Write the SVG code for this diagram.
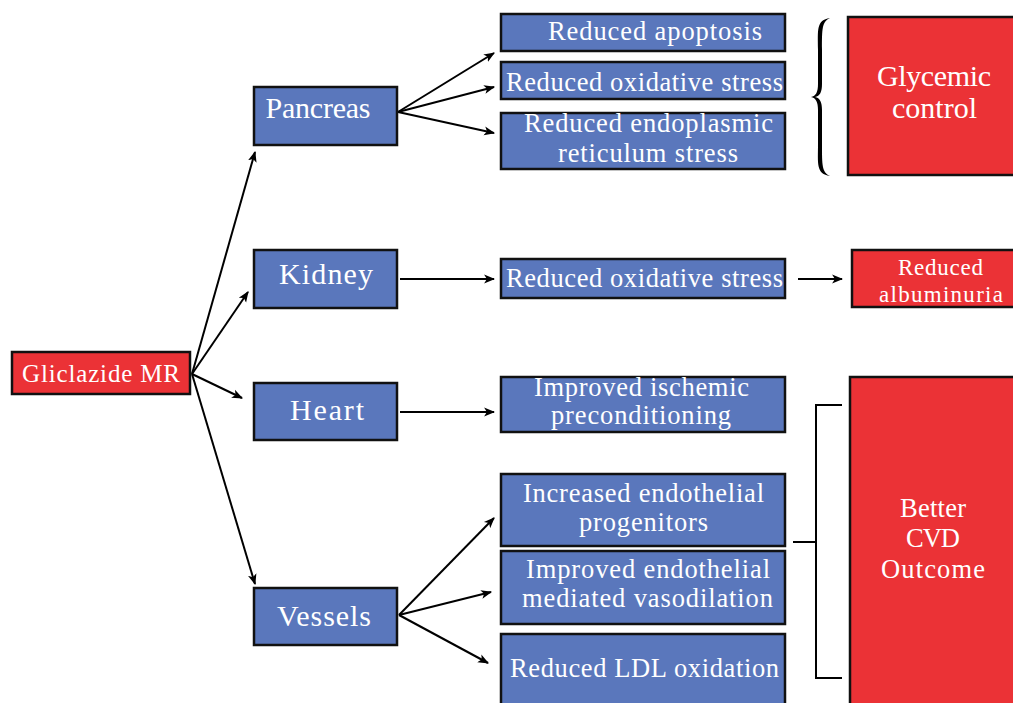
<svg xmlns="http://www.w3.org/2000/svg" width="1013" height="703" viewBox="0 0 1013 703">
<style>
.b{fill:#5a77bc;stroke:#111;stroke-width:2.5}
.r{fill:#eb3236;stroke:#111;stroke-width:2.5}
text{font-family:"Liberation Serif","DejaVu Serif",serif;fill:#fff;text-anchor:middle}
.s24{font-size:26.5px}
.s27{font-size:30px}
.c{fill:none;stroke:#000;stroke-width:2}
</style>
<defs>
<marker id="ah" viewBox="0 0 10 10" refX="9" refY="5" markerWidth="11" markerHeight="11" orient="auto" markerUnits="userSpaceOnUse">
<path d="M0,1 L10,5 L0,9 L2.5,5 Z" fill="#000"/>
</marker>
</defs>
<rect width="1013" height="703" fill="#fff"/>
<g id="connectors">
<line class="c" x1="192" y1="374" x2="255" y2="152" marker-end="url(#ah)"/>
<line class="c" x1="192" y1="374" x2="248" y2="292" marker-end="url(#ah)"/>
<line class="c" x1="192" y1="374" x2="242" y2="398" marker-end="url(#ah)"/>
<line class="c" x1="192" y1="374" x2="255" y2="584" marker-end="url(#ah)"/>
<line class="c" x1="398" y1="112" x2="494" y2="53" marker-end="url(#ah)"/>
<line class="c" x1="398" y1="112" x2="494" y2="87" marker-end="url(#ah)"/>
<line class="c" x1="398" y1="112" x2="494" y2="133" marker-end="url(#ah)"/>
<line class="c" x1="400" y1="279" x2="494" y2="279" marker-end="url(#ah)"/>
<line class="c" x1="400" y1="412" x2="494" y2="412" marker-end="url(#ah)"/>
<line class="c" x1="798" y1="279" x2="842" y2="279" marker-end="url(#ah)"/>
<line class="c" x1="399" y1="615" x2="494" y2="518" marker-end="url(#ah)"/>
<line class="c" x1="399" y1="615" x2="491" y2="592" marker-end="url(#ah)"/>
<line class="c" x1="399" y1="615" x2="488" y2="663" marker-end="url(#ah)"/>
<path class="c" d="M793,542 H816 M842,405 H816 V678 H842"/>
<path d="M830,18 C816,20 818,30 818,50 L818,84 C818,92 816,96 811,97 C816,98 818,102 818,110 L818,144 C818,164 816,174 830,176 C822,172 822,166 822,144 L822,110 C822,102 820,98 815,97 C820,96 822,92 822,84 L822,50 C822,28 822,22 830,18 Z" fill="#000"/>
</g>
<g id="gliclazide"><rect class="r" x="12" y="352" width="178" height="42"/><text x="101" y="382" font-size="25" textLength="158">Gliclazide MR</text></g>
<g id="pancreas"><rect class="b" x="254" y="87" width="143" height="58"/><text class="s27" x="318" y="118" textLength="105">Pancreas</text></g>
<g id="kidney"><rect class="b" x="254" y="250" width="143" height="58"/><text class="s27" x="326" y="284" textLength="94">Kidney</text></g>
<g id="heart"><rect class="b" x="254" y="383" width="143" height="57"/><text class="s27" x="327" y="420" textLength="74">Heart</text></g>
<g id="vessels"><rect class="b" x="254" y="588" width="143" height="57"/><text class="s27" x="324" y="626" textLength="94">Vessels</text></g>
<g id="apoptosis"><rect class="b" x="501" y="14" width="284" height="37"/><text class="s24" x="655" y="40" textLength="214">Reduced apoptosis</text></g>
<g id="oxstress1"><rect class="b" x="501" y="62" width="284" height="37"/><text class="s24" x="644.5" y="91" textLength="277">Reduced oxidative stress</text></g>
<g id="er-stress"><rect class="b" x="501" y="113" width="284" height="56"/><text class="s24" x="648.5" y="132" textLength="249">Reduced endoplasmic</text><text class="s24" x="648" y="162" textLength="180">reticulum stress</text></g>
<g id="glycemic"><rect class="r" x="848" y="17" width="170" height="158"/><text x="934" y="86" font-size="30" textLength="114">Glycemic</text><text x="934.5" y="118" font-size="30" textLength="85">control</text></g>
<g id="oxstress2"><rect class="b" x="501" y="259" width="284" height="39"/><text class="s24" x="644.5" y="287" textLength="277">Reduced oxidative stress</text></g>
<g id="albuminuria"><rect class="r" x="852" y="250" width="166" height="57"/><text x="940.5" y="275" font-size="23" textLength="85">Reduced</text><text x="941" y="302" font-size="23" textLength="124">albuminuria</text></g>
<g id="ischemic"><rect class="b" x="501" y="377" width="284" height="55"/><text class="s24" x="641.5" y="396" textLength="215">Improved ischemic</text><text class="s24" x="641" y="424" textLength="180">preconditioning</text></g>
<g id="progenitors"><rect class="b" x="501" y="474" width="284" height="72"/><text class="s24" x="643.5" y="502" textLength="241">Increased endothelial</text><text class="s24" x="643.5" y="531" textLength="129">progenitors</text></g>
<g id="vasodilation"><rect class="b" x="501" y="551" width="284" height="73"/><text class="s24" x="648" y="578" textLength="244">Improved endothelial</text><text class="s24" x="647.5" y="607" textLength="251">mediated vasodilation</text></g>
<g id="ldl"><rect class="b" x="501" y="634" width="284" height="80"/><text class="s24" x="644.5" y="677" textLength="269">Reduced LDL oxidation</text></g>
<g id="cvd"><rect class="r" x="850" y="377" width="168" height="340"/><text class="s24" x="933" y="517" textLength="66">Better</text><text class="s24" x="933" y="547" textLength="54">CVD</text><text class="s24" x="933" y="578" textLength="104">Outcome</text></g>
</svg>
